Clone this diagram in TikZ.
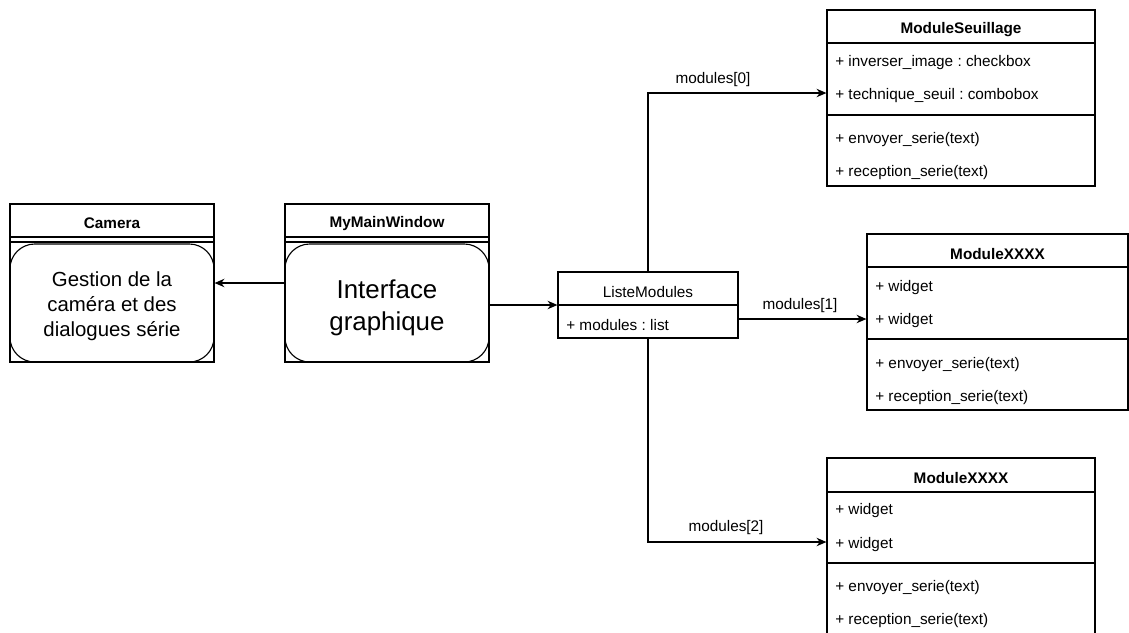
\documentclass[tikz,border=0pt]{standalone}
\usepackage{fontspec}
\setmainfont{Liberation Sans}
\usetikzlibrary{arrows.meta}
\frenchspacing

\tikzset{
    box/.style={draw, line width=0.8pt, rectangle, inner sep=0pt},
    roundbox/.style={draw, line width=0.8pt, rounded corners=0.62cm, inner sep=0pt},
    bigtext/.style={align=center, inner sep=0pt, yshift=-2pt},
    title/.style={inner sep=0pt, yshift=-1.8pt, font=\fontsize{10.9}{13}\selectfont\bfseries},
    row/.style={anchor=west, inner sep=0pt, yshift=-2pt, font=\fontsize{10.9}{13}\selectfont},
    lbl/.style={inner sep=0pt, yshift=-2pt, font=\fontsize{10.9}{13}\selectfont},
    sep/.style={line width=0.8pt},
    link/.style={-{Stealth[length=7pt,width=6pt]}, line width=0.8pt}
}

\begin{document}
\begin{tikzpicture}[x=0.025cm, y=-0.025cm]

\useasboundingbox (0,0) rectangle (1129,632);

% Camera
\node[box, minimum width=5.1cm, minimum height=3.95cm] (camera) at (112,283) {};
\node[title] (cameratitle) at (112,221) {Camera};
\draw[sep] (camera.west |- 0,237) -- (camera.east |- 0,237);
\draw[sep] (camera.west |- 0,242) -- (camera.east |- 0,242);
\node[roundbox, minimum width=5.1cm, minimum height=2.95cm] (gestion) at (112,303) {};
\node[bigtext, font=\fontsize{14.5}{17.8}\selectfont] (gestiontxt) at (gestion)
      {Gestion de la\\caméra et des\\dialogues série};

% MyMainWindow
\node[box, minimum width=5.1cm, minimum height=3.95cm] (mainwin) at (387,283) {};
\node[title] (mainwintitle) at (387,221) {MyMainWindow};
\draw[sep] (mainwin.west |- 0,237) -- (mainwin.east |- 0,237);
\draw[sep] (mainwin.west |- 0,242) -- (mainwin.east |- 0,242);
\node[roundbox, minimum width=5.1cm, minimum height=2.95cm] (interface) at (387,303) {};
\node[bigtext, yshift=-1.5pt, font=\fontsize{18.4}{22.8}\selectfont] (interfacetxt) at (interface)
      {Interface\\graphique};

% ListeModules
\node[box, minimum width=4.5cm, minimum height=1.65cm] (liste) at (648,305) {};
\node[lbl] (listetitle) at (648,289) {ListeModules};
\draw[sep] (liste.west |- 0,305) -- (liste.east |- 0,305);
\node[row] (listerow) at (566,322) {+ modules : list};

% ModuleSeuillage
\node[box, minimum width=6.7cm, minimum height=4.4cm] (seuil) at (961,98) {};
\node[title] (seuiltitle) at (961,27) {ModuleSeuillage};
\draw[sep] (seuil.west |- 0,43) -- (seuil.east |- 0,43);
\node[row] (seuilrow1) at (835,60) {+ inverser\_image : checkbox};
\node[row] (seuilrow2) at (835,93) {+ technique\_seuil : combobox};
\draw[sep] (seuil.west |- 0,115) -- (seuil.east |- 0,115);
\node[row] (seuilrow3) at (835,137) {+ envoyer\_serie(text)};
\node[row] (seuilrow4) at (835,170) {+ reception\_serie(text)};

% ModuleXXXX (1)
\node[box, minimum width=6.525cm, minimum height=4.4cm] (xa) at (997.5,322) {};
\node[title] (xatitle) at (997.5,251) {ModuleXXXX};
\draw[sep] (xa.west |- 0,267) -- (xa.east |- 0,267);
\node[row] (xarow1) at (875,285) {+ widget};
\node[row] (xarow2) at (875,318) {+ widget};
\draw[sep] (xa.west |- 0,339) -- (xa.east |- 0,339);
\node[row] (xarow3) at (875,362) {+ envoyer\_serie(text)};
\node[row] (xarow4) at (875,395) {+ reception\_serie(text)};

% ModuleXXXX (2)
\node[box, minimum width=6.7cm, minimum height=4.4cm] (xb) at (961,546) {};
\node[title] (xbtitle) at (961,475) {ModuleXXXX};
\draw[sep] (xb.west |- 0,492) -- (xb.east |- 0,492);
\node[row] (xbrow1) at (835,508) {+ widget};
\node[row] (xbrow2) at (835,542) {+ widget};
\draw[sep] (xb.west |- 0,563) -- (xb.east |- 0,563);
\node[row] (xbrow3) at (835,585) {+ envoyer\_serie(text)};
\node[row] (xbrow4) at (835,618) {+ reception\_serie(text)};

% liens
\draw[link] (mainwin.west) -- (camera.east);
\draw[link] (mainwin.east |- liste.west) -- (liste.west);
\draw[link] (liste.north) |- (seuil.west |- 0,93);
\draw[link] (liste.east |- 0,319) -- (xa.west |- 0,319);
\draw[link] (liste.south) |- (xb.west |- 0,542);

\node[lbl] (lbl0) at (713,77) {modules[0]};
\node[lbl] (lbl1) at (800,303) {modules[1]};
\node[lbl] (lbl2) at (726,525) {modules[2]};

\end{tikzpicture}
\end{document}
